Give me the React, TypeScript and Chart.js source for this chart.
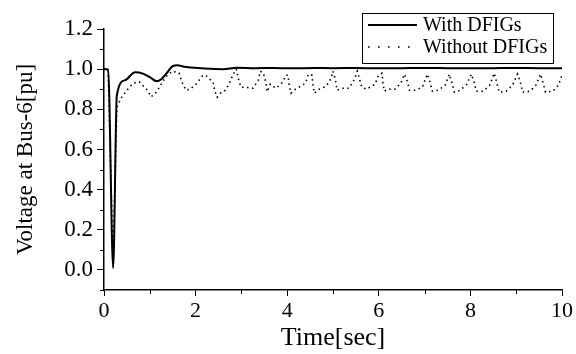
import React, { useEffect, useRef } from 'react';
import { Chart, registerables } from 'chart.js';

Chart.register(...registerables);

// ---- data ----
const seriesLabels = ['With DFIGs', 'Without DFIGs'];

const withTime = [0, 0.09, 0.2, 0.28, 0.46, 0.68, 0.85, 1.0, 1.15, 1.25, 1.35, 1.5, 1.6, 1.75, 1.9, 2.2, 2.6, 2.9, 3.3, 3.7, 4.1, 4.6, 5.0, 5.5, 6.0, 6.5, 7.0, 7.5, 8.0, 8.5, 9.0, 9.5, 10.0];
const withVolt = [1.0, 1.0, 0.01, 0.87, 0.945, 0.985, 0.978, 0.96, 0.94, 0.95, 0.975, 1.015, 1.02, 1.012, 1.008, 1.003, 1.0, 1.007, 1.005, 1.006, 1.004, 1.006, 1.005, 1.006, 1.004, 1.005, 1.006, 1.005, 1.004, 1.005, 1.006, 1.005, 1.005];

const withoutTime = [0, 0.09, 0.2, 0.28, 0.37, 0.5, 0.64, 0.77, 0.93, 1.03, 1.15, 1.26, 1.38, 1.5, 1.64, 1.7, 1.79, 1.88, 2.03, 2.16, 2.24, 2.38, 2.42, 2.47, 2.54, 2.62, 2.73, 2.81, 2.89, 2.93, 2.99, 3.09, 3.25, 3.37, 3.41, 3.48, 3.54, 3.56, 3.63, 3.69, 3.76, 3.88, 3.98, 4.02, 4.04, 4.08, 4.18, 4.4, 4.46, 4.54, 4.56, 4.59, 4.7, 4.85, 4.96, 5.0, 5.05, 5.09, 5.22, 5.35, 5.47, 5.53, 5.58, 5.63, 5.73, 5.92, 5.99, 6.07, 6.09, 6.12, 6.2, 6.35, 6.48, 6.56, 6.62, 6.67, 6.8, 6.95, 7.06, 7.12, 7.17, 7.3, 7.45, 7.54, 7.6, 7.65, 7.78, 7.92, 8.02, 8.08, 8.13, 8.28, 8.42, 8.52, 8.58, 8.63, 8.78, 8.92, 9.03, 9.09, 9.14, 9.3, 9.43, 9.53, 9.59, 9.64, 9.8, 9.92, 10.0];
const withoutVolt = [1.0, 1.0, 0.02, 0.81, 0.855, 0.895, 0.93, 0.937, 0.9, 0.862, 0.887, 0.93, 0.97, 0.99, 0.98, 0.937, 0.895, 0.9, 0.93, 0.97, 0.965, 0.935, 0.89, 0.86, 0.88, 0.887, 0.925, 0.97, 1.0, 0.955, 0.91, 0.91, 0.905, 0.945, 0.99, 0.98, 0.93, 0.887, 0.925, 0.915, 0.905, 0.93, 0.97, 0.97, 0.925, 0.88, 0.9, 0.93, 0.975, 0.97, 0.93, 0.88, 0.9, 0.915, 0.955, 0.99, 0.95, 0.895, 0.905, 0.905, 0.95, 0.99, 0.95, 0.91, 0.9, 0.925, 0.97, 0.98, 0.93, 0.89, 0.9, 0.9, 0.93, 0.975, 0.94, 0.895, 0.895, 0.91, 0.975, 0.935, 0.89, 0.895, 0.92, 0.975, 0.93, 0.885, 0.895, 0.925, 0.975, 0.935, 0.89, 0.89, 0.92, 0.98, 0.93, 0.885, 0.89, 0.92, 0.975, 0.935, 0.885, 0.89, 0.92, 0.975, 0.93, 0.885, 0.89, 0.92, 0.97];

const xMinorTicks = [1, 3, 5, 7, 9];
const yMinorTicks = [-0.1, 0.1, 0.3, 0.5, 0.7, 0.9, 1.1];

const FONT = "'Liberation Serif', 'Times New Roman', serif";

const minorTickPlugin = {
  id: 'minorTicks',
  afterDraw(chart: any) {
    const ctx = chart.ctx;
    const xs = chart.scales.x;
    const ys = chart.scales.y;
    const area = chart.chartArea;
    ctx.save();
    ctx.strokeStyle = '#000';
    ctx.lineWidth = 1;
    ctx.beginPath();
    xMinorTicks.forEach((v) => {
      const px = Math.round(xs.getPixelForValue(v)) + 0.5;
      ctx.moveTo(px, area.bottom);
      ctx.lineTo(px, area.bottom + 4);
    });
    yMinorTicks.forEach((v) => {
      const py = Math.round(ys.getPixelForValue(v)) + 0.5;
      ctx.moveTo(area.left - 4, py);
      ctx.lineTo(area.left, py);
    });
    ctx.stroke();
    ctx.restore();
  },
};

const boxLegendPlugin = {
  id: 'boxLegend',
  afterDraw(chart: any) {
    const ctx = chart.ctx;
    const bx = 362, by = 13, bw = 191, bh = 50;
    ctx.save();
    ctx.fillStyle = '#fff';
    ctx.fillRect(bx, by, bw, bh);
    ctx.strokeStyle = '#000';
    ctx.lineWidth = 1;
    ctx.strokeRect(bx + 0.5, by + 0.5, bw, bh);
    ctx.font = `20px ${FONT}`;
    ctx.fillStyle = '#000';
    ctx.textBaseline = 'middle';
    chart.data.datasets.forEach((ds: any, i: number) => {
      const y = by + 12 + i * 22;
      ctx.save();
      ctx.lineWidth = ds.borderWidth;
      ctx.setLineDash(i === 0 ? [] : [1.6, 8.4]);
      ctx.beginPath();
      ctx.moveTo(bx + 6, y);
      ctx.lineTo(bx + 55, y);
      ctx.stroke();
      ctx.restore();
      ctx.fillText(ds.label, bx + 61, y + 1);
    });
    ctx.restore();
  },
};

export default function App() {
  const canvasRef = useRef<HTMLCanvasElement | null>(null);

  useEffect(() => {
    document.body.style.margin = '0';
    const canvas = canvasRef.current;
    if (!canvas) return;
    const chart = new Chart(canvas, {
      type: 'line',
      data: {
        datasets: [
          {
            label: seriesLabels[0],
            data: withTime.map((t, i) => ({ x: t, y: withVolt[i] })),
            borderColor: '#000',
            borderWidth: 2,
            pointRadius: 0,
            cubicInterpolationMode: 'monotone',
            fill: false,
          },
          {
            label: seriesLabels[1],
            data: withoutTime.map((t, i) => ({ x: t, y: withoutVolt[i] })),
            borderColor: '#000',
            borderWidth: 1.6,
            borderDash: [1.5, 3.5],
            pointRadius: 0,
            tension: 0,
            fill: false,
          },
        ],
      },
      options: {
        responsive: false,
        animation: false,
        devicePixelRatio: 1,
        layout: { padding: { top: 29, right: 14, left: 12, bottom: 0 } },
        plugins: {
          legend: { display: false },
          tooltip: { enabled: false },
        },
        scales: {
          x: {
            type: 'linear',
            min: 0,
            max: 10,
            ticks: {
              stepSize: 2,
              color: '#000',
              font: { family: FONT, size: 22 },
              padding: 2,
              maxRotation: 0,
              callback: (v: any) => String(v),
            },
            grid: { drawOnChartArea: false, color: '#000', tickLength: 6, tickWidth: 1 },
            border: { display: true, color: '#000', width: 1.5 },
            title: {
              display: true,
              text: 'Time[sec]',
              color: '#000',
              font: { family: FONT, size: 26 },
              padding: { top: 4, bottom: 0 },
            },
            afterFit: (s: any) => { s.height = 64; },
          },
          y: {
            type: 'linear',
            min: -0.1,
            max: 1.2,
            ticks: {
              stepSize: 0.2,
              includeBounds: false,
              color: '#000',
              font: { family: FONT, size: 23 },
              padding: 4,
              callback: (v: any) => Number(v).toFixed(1),
            },
            grid: { drawOnChartArea: false, color: '#000', tickLength: 7, tickWidth: 1 },
            border: { display: true, color: '#000', width: 1.5 },
            title: {
              display: true,
              text: 'Voltage at Bus-6[pu]',
              color: '#000',
              font: { family: FONT, size: 23 },
              padding: { top: 0, bottom: 4 },
            },
            afterFit: (s: any) => { s.width = 92; },
          },
        },
      },
      plugins: [minorTickPlugin, boxLegendPlugin],
    });
    return () => chart.destroy();
  }, []);

  return (
    <div style={{ position: 'fixed', left: 0, top: 0, width: 576, height: 354, background: '#fff' }}>
      <canvas ref={canvasRef} width={576} height={354} style={{ width: 576, height: 354 }} />
    </div>
  );
}
